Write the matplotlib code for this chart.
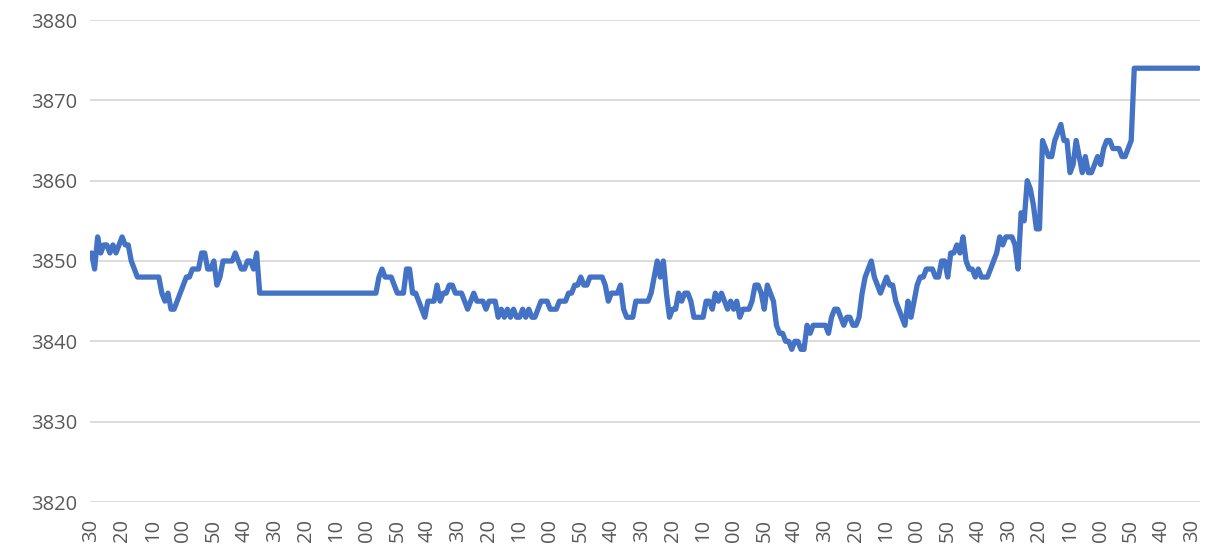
import matplotlib
matplotlib.use("Agg")
import matplotlib.pyplot as plt

# values (one per minute, newest first)
prices = [
    3851, 3849, 3853, 3851, 3852, 3852, 3851, 3852, 3851, 3852,
    3853, 3852, 3852, 3850, 3849, 3848, 3848, 3848, 3848, 3848,
    3848, 3848, 3848, 3846, 3845, 3846, 3844, 3844, 3845, 3846,
    3847, 3848, 3848, 3849, 3849, 3849, 3851, 3851, 3849, 3849,
    3850, 3847, 3848, 3850, 3850, 3850, 3850, 3851, 3850, 3849,
    3849, 3850, 3850, 3849, 3851, 3846, 3846, 3846, 3846, 3846,
    3846, 3846, 3846, 3846, 3846, 3846, 3846, 3846, 3846, 3846,
    3846, 3846, 3846, 3846, 3846, 3846, 3846, 3846, 3846, 3846,
    3846, 3846, 3846, 3846, 3846, 3846, 3846, 3846, 3846, 3846,
    3846, 3846, 3846, 3846, 3848, 3849, 3848, 3848, 3848, 3847,
    3846, 3846, 3846, 3849, 3849, 3846, 3846, 3845, 3844, 3843,
    3845, 3845, 3845, 3847, 3845, 3846, 3846, 3847, 3847, 3846,
    3846, 3846, 3845, 3844, 3845, 3846, 3845, 3845, 3845, 3844,
    3845, 3845, 3845, 3843, 3844, 3843, 3844, 3843, 3844, 3843,
    3843, 3844, 3843, 3844, 3843, 3843, 3844, 3845, 3845, 3845,
    3844, 3844, 3844, 3845, 3845, 3845, 3846, 3846, 3847, 3847,
    3848, 3847, 3847, 3848, 3848, 3848, 3848, 3848, 3847, 3845,
    3846, 3846, 3846, 3847, 3844, 3843, 3843, 3843, 3845, 3845,
    3845, 3845, 3845, 3846, 3848, 3850, 3848, 3850, 3846, 3843,
    3844, 3844, 3846, 3845, 3846, 3846, 3845, 3843, 3843, 3843,
    3843, 3845, 3845, 3844, 3846, 3845, 3846, 3845, 3844, 3845,
    3844, 3845, 3843, 3844, 3844, 3844, 3845, 3847, 3847, 3846,
    3844, 3847, 3846, 3845, 3842, 3841, 3841, 3840, 3840, 3839,
    3840, 3840, 3839, 3839, 3842, 3841, 3842, 3842, 3842, 3842,
    3842, 3841, 3843, 3844, 3844, 3843, 3842, 3843, 3843, 3842,
    3842, 3843, 3846, 3848, 3849, 3850, 3848, 3847, 3846, 3847,
    3848, 3847, 3847, 3845, 3844, 3843, 3842, 3845, 3843, 3845,
    3847, 3848, 3848, 3849, 3849, 3849, 3848, 3848, 3850, 3850,
    3848, 3851, 3851, 3852, 3851, 3853, 3850, 3849, 3849, 3848,
    3849, 3848, 3848, 3848, 3849, 3850, 3851, 3853, 3852, 3853,
    3853, 3853, 3852, 3849, 3856, 3855, 3860, 3859, 3857, 3854,
    3854, 3865, 3864, 3863, 3863, 3865, 3866, 3867, 3865, 3865,
    3861, 3862, 3865, 3863, 3861, 3863, 3861, 3861, 3862, 3863,
    3862, 3864, 3865, 3865, 3864, 3864, 3864, 3863, 3863, 3864,
    3865, 3874, 3874, 3874, 3874, 3874, 3874, 3874, 3874, 3874,
    3874, 3874, 3874, 3874, 3874, 3874, 3874, 3874, 3874, 3874,
    3874, 3874, 3874,
]

# category labels shown every 10th point (the visible minute digits)
tick_labels = [
    "30", "20", "10", "00", "50", "40",
    "30", "20", "10", "00", "50", "40",
    "30", "20", "10", "00", "50", "40",
    "30", "20", "10", "00", "50", "40",
    "30", "20", "10", "00", "50", "40",
    "30", "20", "10", "00", "50", "40",
    "30",
]
label_step = 10

y_ticks = [3820, 3830, 3840, 3850, 3860, 3870, 3880]

plt.rcParams["font.family"] = ["Open Sans", "DejaVu Sans"]

W, H = 1219, 544
fig = plt.figure(figsize=(W / 100, H / 100), dpi=100)
ax = fig.add_axes([90 / W, 1 - 502 / H, (1200 - 90) / W, (502 - 20) / H])

x = list(range(len(prices)))
ax.plot(x, prices, color="#4472C4", linewidth=3.8, solid_joinstyle="round",
        solid_capstyle="round", zorder=3)

ax.set_xlim(-0.5, len(prices) - 0.5)
ax.set_ylim(y_ticks[0], y_ticks[-1])
ax.set_yticks(y_ticks)
ax.set_yticklabels([str(v) for v in y_ticks])
tick_pos = list(range(0, len(prices), label_step))
ax.set_xticks(tick_pos)
ax.set_xticklabels(tick_labels[: len(tick_pos)], rotation=90,
                   va="top", ha="center")

ax.grid(axis="y", color="#D9D9D9", linewidth=1.3, zorder=0)
ax.set_axisbelow(True)
for s in ax.spines.values():
    s.set_visible(False)
ax.tick_params(axis="both", length=0, colors="#595959", labelsize=14.5)
ax.tick_params(axis="y", pad=9)
ax.tick_params(axis="x", pad=12)

fig.savefig("out.png", dpi=100)
